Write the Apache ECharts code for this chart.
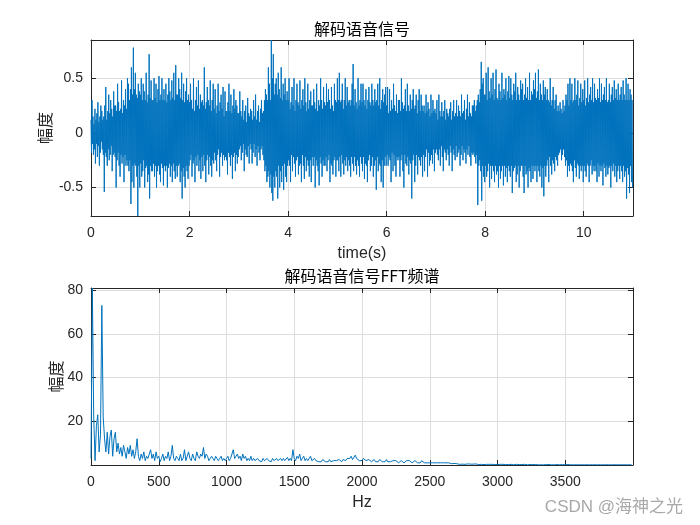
<!DOCTYPE html>
<html><head><meta charset="utf-8">
<script src="https://cdn.jsdelivr.net/npm/echarts@6/dist/echarts.min.js"></script>
<style>html,body{margin:0;padding:0;background:#fff}#c{width:700px;height:525px}</style>
</head><body><div id="c"></div>
<script>
// ---- data ----
const signalRate = 100; // trace points per second (decimated view of the signal)
const signalAmp = [
 0.12,-0.18,0.3,-0.1,0.15,-0.2,0.08,-0.15,0.22,-0.28,0.12,-0.1,0.18,-0.22,0.28,-0.12,0.1,-0.3,0.15,-0.18,0.25,-0.08,0.2,-0.15,0.12,
 -0.2,0.15,-0.54,0.25,-0.18,0.42,-0.22,0.12,-0.3,0.2,-0.15,0.35,-0.25,0.18,-0.2,0.3,-0.12,0.22,-0.35,0.15,-0.2,0.38,-0.18,0.25,-0.22,
 0.25,-0.5,0.2,-0.25,0.45,-0.18,0.28,-0.3,0.2,-0.4,0.22,-0.2,0.48,-0.28,0.18,-0.22,0.3,-0.45,0.25,-0.2,0.4,-0.3,0.22,-0.25,0.5,
 -0.3,0.45,-0.35,0.3,-0.25,0.4,-0.65,0.6,-0.45,0.35,-0.3,0.78,-0.5,0.4,-0.28,0.55,-0.3,0.35,-0.4,0.32,-0.76,0.45,-0.3,0.38,-0.5,
 0.35,-0.28,0.5,-0.4,0.3,-0.35,0.45,-0.25,0.38,-0.5,0.3,-0.32,0.55,-0.3,0.28,-0.45,0.35,-0.38,0.72,-0.6,0.32,-0.3,0.48,-0.35,0.3,
 -0.35,0.3,-0.28,0.5,-0.4,0.32,-0.3,0.45,-0.5,0.28,-0.35,0.4,-0.3,0.52,-0.38,0.3,-0.45,0.35,-0.28,0.5,-0.32,0.3,-0.48,0.4,-0.3,
 0.3,-0.35,0.45,-0.3,0.28,-0.5,0.35,-0.32,0.5,-0.28,0.38,-0.4,0.3,-0.3,0.48,-0.45,0.32,-0.28,0.55,-0.35,0.3,-0.42,0.62,-0.3,0.35,
 -0.4,0.35,-0.3,0.5,-0.28,0.4,-0.45,0.32,-0.35,0.55,-0.6,0.3,-0.32,0.45,-0.4,0.28,-0.5,0.38,-0.3,0.5,-0.35,0.3,-0.42,0.35,-0.3,
 0.28,-0.25,0.45,-0.2,0.3,-0.4,0.22,-0.28,0.5,-0.25,0.2,-0.45,0.3,-0.22,0.42,-0.3,0.25,-0.2,0.48,-0.35,0.22,-0.25,0.35,-0.42,0.28,
 -0.22,0.3,-0.35,0.25,-0.2,0.6,-0.3,0.22,-0.45,0.28,-0.25,0.42,-0.2,0.3,-0.38,0.25,-0.22,0.48,-0.3,0.2,-0.4,0.3,-0.25,0.45,-0.28,
 0.22,-0.18,0.4,-0.25,0.18,-0.35,0.25,-0.2,0.45,-0.15,0.2,-0.4,0.28,-0.22,0.35,-0.18,0.22,-0.3,0.42,-0.2,0.15,-0.25,0.38,-0.22,0.2,
 -0.25,0.2,-0.38,0.28,-0.18,0.45,-0.22,0.2,-0.3,0.35,-0.2,0.18,-0.42,0.25,-0.22,0.4,-0.18,0.22,-0.35,0.3,-0.2,0.25,-0.28,0.18,-0.22,
 0.18,-0.15,0.38,-0.12,0.2,-0.25,0.15,-0.18,0.3,-0.1,0.12,-0.35,0.2,-0.15,0.25,-0.2,0.1,-0.22,0.32,-0.12,0.18,-0.28,0.15,-0.1,0.22,
 -0.15,0.2,-0.28,0.12,-0.18,0.3,-0.1,0.15,-0.22,0.35,-0.15,0.12,-0.3,0.2,-0.12,0.25,-0.18,0.1,-0.25,0.22,-0.15,0.3,-0.12,0.18,-0.2,
 0.2,-0.25,0.3,-0.35,0.4,-0.3,0.35,-0.45,0.3,-0.4,0.6,-0.35,0.45,-0.5,0.3,-0.38,0.85,-0.55,0.5,-0.62,0.72,-0.4,0.35,-0.5,0.45,
 -0.35,0.5,-0.4,0.35,-0.6,0.55,-0.3,0.4,-0.5,0.32,-0.35,0.6,-0.45,0.3,-0.3,0.45,-0.52,0.35,-0.28,0.5,-0.4,0.3,-0.45,0.38,-0.3,
 0.3,-0.25,0.5,-0.3,0.22,-0.45,0.28,-0.2,0.42,-0.35,0.25,-0.22,0.5,-0.28,0.2,-0.4,0.3,-0.25,0.45,-0.22,0.28,-0.38,0.25,-0.3,0.48,
 -0.28,0.22,-0.45,0.3,-0.2,0.4,-0.3,0.25,-0.42,0.5,-0.22,0.28,-0.35,0.2,-0.25,0.45,-0.3,0.22,-0.4,0.3,-0.25,0.38,-0.45,0.25,-0.22,
 0.25,-0.3,0.4,-0.22,0.28,-0.5,0.22,-0.25,0.45,-0.3,0.2,-0.35,0.3,-0.48,0.25,-0.22,0.5,-0.28,0.3,-0.4,0.22,-0.25,0.42,-0.3,0.28,
 -0.3,0.25,-0.22,0.45,-0.35,0.28,-0.25,0.4,-0.2,0.3,-0.45,0.22,-0.28,0.42,-0.3,0.25,-0.38,0.2,-0.25,0.45,-0.22,0.3,-0.4,0.28,-0.25,
 0.5,-0.25,0.3,-0.35,0.55,-0.22,0.28,-0.4,0.3,-0.2,0.45,-0.28,0.22,-0.38,0.3,-0.25,0.5,-0.3,0.25,-0.22,0.42,-0.35,0.28,-0.25,0.3,
 -0.3,0.25,-0.4,0.3,-0.22,0.45,-0.28,0.63,-0.35,0.25,-0.22,0.4,-0.3,0.28,-0.38,0.22,-0.25,0.5,-0.3,0.25,-0.4,0.3,-0.22,0.45,-0.28,
 0.28,-0.35,0.45,-0.22,0.3,-0.42,0.25,-0.28,0.4,-0.3,0.22,-0.45,0.3,-0.25,0.42,-0.2,0.28,-0.35,0.25,-0.3,0.45,-0.22,0.3,-0.4,0.25,
 -0.3,0.4,-0.25,0.28,-0.52,0.3,-0.22,0.45,-0.35,0.25,-0.28,0.5,-0.3,0.22,-0.45,0.3,-0.25,0.4,-0.5,0.28,-0.3,0.35,-0.22,0.42,-0.3,
 0.25,-0.2,0.42,-0.3,0.18,-0.22,0.4,-0.25,0.2,-0.45,0.3,-0.18,0.22,-0.35,0.45,-0.2,0.25,-0.3,0.2,-0.4,0.35,-0.22,0.18,-0.25,0.3,
 -0.22,0.3,-0.4,0.2,-0.25,0.5,-0.2,0.28,-0.35,0.22,-0.5,0.25,-0.2,0.4,-0.28,0.2,-0.3,0.45,-0.22,0.25,-0.38,0.2,-0.25,0.35,-0.28,
 0.22,-0.6,0.3,-0.25,0.4,-0.2,0.22,-0.45,0.25,-0.3,0.35,-0.2,0.18,-0.38,0.3,-0.22,0.4,-0.25,0.2,-0.3,0.35,-0.22,0.25,-0.4,0.2,
 -0.2,0.25,-0.35,0.18,-0.22,0.35,-0.15,0.2,-0.4,0.28,-0.18,0.22,-0.3,0.15,-0.25,0.35,-0.2,0.18,-0.28,0.3,-0.15,0.2,-0.35,0.22,-0.18,
 0.18,-0.15,0.3,-0.2,0.12,-0.25,0.35,-0.15,0.2,-0.3,0.15,-0.12,0.28,-0.22,0.15,-0.35,0.2,-0.15,0.3,-0.18,0.12,-0.25,0.22,-0.15,0.18,
 -0.2,0.15,-0.3,0.22,-0.12,0.28,-0.18,0.12,-0.35,0.2,-0.15,0.3,-0.2,0.15,-0.25,0.18,-0.12,0.3,-0.22,0.15,-0.18,0.25,-0.15,0.2,-0.3,
 0.15,-0.2,0.35,-0.12,0.18,-0.25,0.2,-0.15,0.3,-0.18,0.12,-0.28,0.22,-0.15,0.35,-0.2,0.15,-0.12,0.28,-0.22,0.18,-0.3,0.15,-0.18,0.25,
 -0.2,0.25,-0.18,0.3,-0.22,0.2,-0.28,0.25,-0.2,0.3,-0.66,0.35,-0.3,0.28,-0.25,0.4,-0.35,0.65,-0.62,0.45,-0.3,0.5,-0.4,0.35,-0.45,
 0.35,-0.3,0.55,-0.4,0.3,-0.35,0.6,-0.28,0.38,-0.5,0.32,-0.3,0.5,-0.42,0.35,-0.3,0.55,-0.35,0.3,-0.45,0.4,-0.3,0.58,-0.38,0.32,
 -0.35,0.3,-0.5,0.45,-0.3,0.38,-0.42,0.3,-0.35,0.55,-0.3,0.32,-0.48,0.4,-0.3,0.35,-0.4,0.5,-0.32,0.3,-0.45,0.38,-0.3,0.52,-0.35,
 0.32,-0.4,0.5,-0.3,0.35,-0.55,0.3,-0.35,0.45,-0.32,0.38,-0.3,0.55,-0.45,0.3,-0.38,0.42,-0.3,0.35,-0.5,0.3,-0.35,0.48,-0.3,0.4,
 -0.3,0.45,-0.4,0.3,-0.55,0.35,-0.3,0.5,-0.38,0.32,-0.35,0.42,-0.5,0.3,-0.32,0.55,-0.35,0.3,-0.45,0.38,-0.3,0.35,-0.42,0.48,-0.3,
 0.4,-0.35,0.55,-0.3,0.32,-0.45,0.38,-0.3,0.58,-0.35,0.3,-0.4,0.45,-0.3,0.35,-0.5,0.3,-0.32,0.48,-0.58,0.35,-0.3,0.42,-0.4,0.3,
 -0.3,0.4,-0.25,0.3,-0.45,0.28,-0.22,0.5,-0.3,0.25,-0.38,0.3,-0.25,0.42,-0.28,0.22,-0.35,0.3,-0.22,0.35,-0.25,0.2,-0.3,0.25,-0.2,
 0.2,-0.18,0.28,-0.15,0.22,-0.25,0.18,-0.2,0.3,-0.15,0.2,-0.22,0.25,-0.3,0.35,-0.25,0.3,-0.4,0.45,-0.3,0.25,-0.35,0.5,-0.28,0.3,
 -0.3,0.45,-0.35,0.28,-0.45,0.3,-0.25,0.5,-0.32,0.3,-0.4,0.35,-0.28,0.48,-0.3,0.25,-0.42,0.32,-0.3,0.45,-0.35,0.28,-0.3,0.4,-0.45,
 0.3,-0.3,0.48,-0.35,0.25,-0.4,0.32,-0.28,0.5,-0.3,0.28,-0.45,0.35,-0.3,0.42,-0.25,0.3,-0.38,0.5,-0.3,0.28,-0.35,0.45,-0.3,0.32,
 -0.35,0.3,-0.45,0.4,-0.28,0.32,-0.4,0.5,-0.3,0.28,-0.35,0.45,-0.3,0.3,-0.48,0.35,-0.28,0.42,-0.32,0.3,-0.4,0.5,-0.3,0.28,-0.38,
 0.3,-0.32,0.45,-0.3,0.28,-0.5,0.35,-0.3,0.42,-0.35,0.3,-0.28,0.48,-0.4,0.32,-0.3,0.4,-0.45,0.3,-0.35,0.45,-0.3,0.3,-0.42,0.35,
 -0.3,0.42,-0.35,0.3,-0.45,0.48,-0.3,0.35,-0.4,0.3,-0.35,0.5,-0.6,0.3,-0.32,0.45,-0.38,0.3,-0.55,0.4,-0.3,0.35,-0.45,0.3,-0.5
];
const freqStep = 10; // Hz between spectrum samples
const spectrumMag = [
 3,81,22,2,18,23,6,14,73,22,
 12,6,15,5,13,16,4,12,15,6,
 10,5,8,4,9,6,3,8,5,9,
 4,7,3,6,12,4,2,5,3,6,
 2,4,3,5,7,3,5,2,6,3,
 4,1.5,3,5,2,4,3,6,2,4,
 9,3,2,4,3,2,5,2,3,7,
 2,4,6,3,2,5,3,2,6,4,
 3,5,4,8,3,5,4,2,3,4,
 3,2,4,3,2,3,4,2,3,2,
 3,4,2,3,5,7,3,4,5,3,
 4,2,5,3,4,2,3,2,4,2,
 3,2,1.5,3,2,2.5,1.5,3,2,1.5,
 3,2,2.5,1.5,3,2,2.5,3,2,1.5,
 3,2,3,2,2.5,3.5,2,3,2,7,
 3,2,4,3,5,2,3,4,2,3,
 2,3,4,2,1.5,3,2,2.5,1.5,2,
 1.5,2.5,2,1.5,2,1.5,2.5,1.5,1,2,
 1.5,2,1.5,2.5,2,1.5,2.5,3,2,3,
 2.5,3,4,2.5,3,4.5,3,3.5,2,2.5,
 2,3,2.5,2,1.5,2.5,2,1.5,2,2.5,
 1.5,2,1.5,2.5,2,1.5,2,1.5,2.5,1.5,
 2,1.5,1,2,1.5,2,1.5,1,1.5,2,
 1.5,1,1.5,2,1.5,2,1.5,1,1.5,2,
 1.5,1,1.5,1,2,1.5,1,1.5,1,1.5,
 1,1.5,1,1.5,1,1.2,1,1.5,1,1.2,
 1,1.5,1,1.2,1,0.9,
 0.6,0.5,0.7,0.4,0.6,0.5,0.3,0.5,0.4,0.6,0.3,0.4,0.5,0.3,0.4,0.2,0.4,0.3,0.5,0.3,
 0.2,0.4,0.3,0.3,0.2,0.4,0.3,0.2,0.3,0.2,0.3,0.4,0.2,0.3,0.2,0.2,0.3,0.2,0.3,0.2,
 0.2,0.3,0.2,0.2,0.3,0.2,0.1,0.2,0.3,0.2,0.2,0.1,0.2,0.2,0.3,0.2,0.1,0.2,0.2,0.1,
 0.2,0.1,0.2,0.2,0.1,0.2,0.1,0.2,0.1,0.1,0.2,0.1,0.2,0.1,0.1,0.2,0.1,0.1,0.2,0.1,
 0.1,0.1,0.2,0.1,0.1,0.1,0.2,0.1,0.1,0.1,0.1,0.2,0.1,0.1,0.1,0.1,0.1,0.2,0.1,0.1,
 0.1,0.1,0.1,0.1,0.1,0.1,0.1,0.1,0.1,0.1,0.1,0.1,0.1,0.1,0.1,0.1,0.1,0.1,0.1,0.1,
 0.1,0.1,0.1,0.1,0.1,0.1,0.1,0.1,0.1,0.1,0.1,0.1,0.1,0.1
];
const timeTicks = [0, 2, 4, 6, 8, 10];
const ampTicks = [-0.5, 0, 0.5];
const hzTicks = [0, 500, 1000, 1500, 2000, 2500, 3000, 3500];
const magTicks = [20, 40, 60, 80];
const title1 = '解码语音信号';
const title2 = '解码语音信号FFT频谱';
const yName = '幅度';
const xName1 = 'time(s)';
const xName2 = 'Hz';
const watermark = 'CSDN @海神之光';

// ---- build chart ----
const signalData = signalAmp.map((v, i) => [i / signalRate, v]);
const spectrumData = spectrumMag.map((v, i) => [i * freqStep, v]);

const AX = '#262626', GRIDC = '#dedede', BLUE = '#0072BD';
const numFont = "'Liberation Sans', Arial, sans-serif";
const cjkFont = "'Noto Sans CJK SC', sans-serif";
const inList = (list) => (v) => list.some(t => Math.abs(t - v) < 1e-9) ? String(+v.toFixed(6)) : '';

function mainX(grid, min, max, interval, ticks, name) {
  return {
    type: 'value', gridIndex: grid, min, max, interval, position: 'bottom',
    name, nameLocation: 'middle', nameGap: 30, nameMoveOverlap: false,
    nameTextStyle: { color: AX, fontSize: 16, fontFamily: numFont },
    axisLine: { onZero: false, lineStyle: { color: AX, width: 1 } },
    axisTick: { inside: true, length: 5, lineStyle: { color: AX } },
    axisLabel: { color: AX, fontSize: 14, fontFamily: numFont, margin: 10, formatter: inList(ticks), showMaxLabel: true },
    splitLine: { show: true, lineStyle: { color: GRIDC, width: 1 } }
  };
}
function topX(grid, min, max, interval) {
  return {
    type: 'value', gridIndex: grid, min, max, interval, position: 'top',
    axisLine: { onZero: false, lineStyle: { color: AX, width: 1 } },
    axisTick: { inside: true, length: 5, lineStyle: { color: AX } },
    axisLabel: { show: false }, splitLine: { show: false }
  };
}
function mainY(grid, min, max, opts, ticks, gap) {
  return Object.assign({
    type: 'value', gridIndex: grid, min, max, position: 'left',
    name: yName, nameLocation: 'middle', nameGap: gap, nameRotate: 90, nameMoveOverlap: false,
    nameTextStyle: { color: AX, fontSize: 16, fontFamily: cjkFont },
    axisLine: { show: true, onZero: false, lineStyle: { color: AX, width: 1 } },
    axisTick: { show: true, inside: true, length: 5, lineStyle: { color: AX } },
    axisLabel: { color: AX, fontSize: 14, fontFamily: numFont, margin: 8, formatter: inList(ticks) },
    splitLine: { show: true, lineStyle: { color: GRIDC, width: 1 } }
  }, opts);
}
function rightY(grid, min, max, opts) {
  return Object.assign({
    type: 'value', gridIndex: grid, min, max, position: 'right',
    axisLine: { show: true, onZero: false, lineStyle: { color: AX, width: 1 } },
    axisTick: { show: true, inside: true, length: 5, lineStyle: { color: AX } },
    axisLabel: { show: false }, splitLine: { show: false }
  }, opts);
}

const chart = echarts.init(document.getElementById('c'), null, { renderer: 'canvas' });
chart.setOption({
  animation: false,
  backgroundColor: '#ffffff',
  grid: [
    { left: 91, top: 40, width: 542, height: 176 },
    { left: 91, top: 288, width: 542, height: 177 }
  ],
  xAxis: [
    mainX(0, 0, 11, 2, timeTicks, xName1),
    topX(0, 0, 11, 2),
    mainX(1, 0, 4000, 500, hzTicks, xName2),
    topX(1, 0, 4000, 500)
  ],
  yAxis: [
    mainY(0, -0.76, 0.85, { splitNumber: 3 }, ampTicks, 38),
    rightY(0, -0.76, 0.85, { splitNumber: 3 }),
    mainY(1, 0, 81, { interval: 20 }, magTicks, 27),
    rightY(1, 0, 81, { interval: 20 })
  ],
  series: [
    { type: 'line', xAxisIndex: 0, yAxisIndex: 0, data: signalData, showSymbol: false, symbol: 'none',
      sampling: null, lineStyle: { color: BLUE, width: 1 }, silent: true },
    { type: 'line', xAxisIndex: 2, yAxisIndex: 2, data: spectrumData, showSymbol: false, symbol: 'none',
      lineStyle: { color: BLUE, width: 1 }, silent: true, clip: true }
  ],
  graphic: [
    { type: 'text', x: 362, y: 29, style: { text: title1, fontSize: 16, fontFamily: cjkFont, fill: '#000', align: 'center', verticalAlign: 'middle' } },
    { type: 'text', x: 362, y: 276, style: { text: title2, fontSize: 16, fontFamily: cjkFont, fill: '#000', align: 'center', verticalAlign: 'middle' } },
    { type: 'text', x: 683, y: 507, style: { text: watermark, fontSize: 17, fontFamily: numFont + ", 'Noto Sans CJK SC'", fill: '#a8a8a8', align: 'right', verticalAlign: 'middle' } }
  ]
});
</script>
</body></html>
